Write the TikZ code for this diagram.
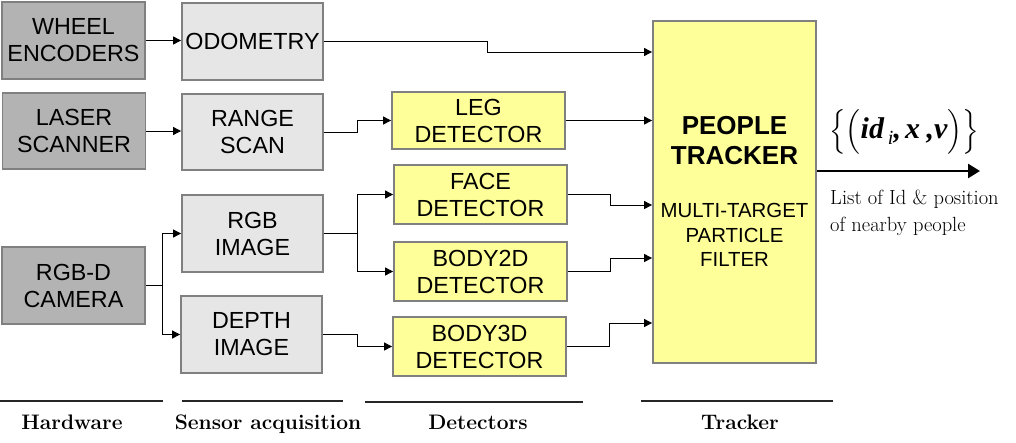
\documentclass[tikz,border=0pt]{standalone}
\usepackage{fix-cm}
\usepackage{amsmath}
\usepackage{fontspec}
\newfontfamily\arial{Liberation Sans}
\newfontfamily\tnr{Liberation Serif}
\usetikzlibrary{arrows.meta}
\definecolor{hwfill}{HTML}{B3B3B3}
\definecolor{sfill}{HTML}{E6E6E6}
\definecolor{yfill}{HTML}{FFFF99}
\definecolor{bord}{HTML}{808080}
\newcommand{\bivar}[1]{\text{\fontsize{30}{34}\selectfont\tnr\bfseries\itshape #1}}
\newcommand{\subvar}[1]{\raisebox{-6pt}{\fontsize{20}{22}\selectfont\tnr\itshape #1}}
\tikzset{
  box/.style={draw=bord, line width=1.8pt, inner sep=0pt, align=center,
    font=\arial\fontsize{23.3}{27}\selectfont},
  hw/.style={box, fill=hwfill, minimum width=143pt, minimum height=77pt},
  sens/.style={box, fill=sfill, minimum width=141pt, minimum height=77pt},
  det/.style={box, fill=yfill, minimum width=173pt, minimum height=59pt},
  arr/.style={-{Triangle[length=8pt,width=8pt]}, line width=0.9pt},
  bigarr/.style={-{Triangle[length=12pt,width=14pt]}, line width=2.6pt},
  sepline/.style={line width=1.3pt, black!85},
  lab/.style={anchor=base, inner sep=0pt, font=\fontsize{21}{25}\selectfont\bfseries}
}
\begin{document}
\begin{tikzpicture}[x=1pt,y=-1pt]
\useasboundingbox (0,0) rectangle (1016,442);
% hardware
\node[hw] (we) at (73.5,40.5) {WHEEL\\ENCODERS};
\node[hw, minimum height=76pt] (laser) at (74,131) {LASER\\SCANNER};
\node[hw] (rgbd) at (73.5,285.5) {RGB-D\\CAMERA};
% sensor acquisition
\node[sens] (odo) at (252.5,41.5) {ODOMETRY};
\node[sens, minimum height=76pt] (range) at (252.5,132) {RANGE\\SCAN};
\node[sens] (rgb) at (252.5,233.5) {RGB\\IMAGE};
\node[sens] (depth) at (251.5,334.5) {DEPTH\\IMAGE};
% detectors
\node[det, minimum height=57pt] (leg) at (478.5,120.5) {LEG\\DETECTOR};
\node[det] (face) at (480.5,194.5) {FACE\\DETECTOR};
\node[det] (body2d) at (480.5,271.5) {BODY2D\\DETECTOR};
\node[det] (body3d) at (479.5,346.5) {BODY3D\\DETECTOR};
% tracker
\node[box, fill=yfill, minimum width=163pt, minimum height=342pt] (tracker) at (734.5,192) {};
\node[inner sep=0pt, align=center, font=\arial\bfseries\fontsize{26}{30}\selectfont] (tt) at (734.5,141) {PEOPLE\\TRACKER};
\node[inner sep=0pt, align=center, font=\arial\fontsize{20.4}{24.5}\selectfont] (ts) at (734.5,235) {MULTI-TARGET\\PARTICLE\\FILTER};
% junction coordinates
\coordinate (j0) at (162,0);
\coordinate (j1) at (357,0);
\coordinate (b1) at (487,52);
\coordinate (f1) at (610,205);
\coordinate (f2) at (610,258);
\coordinate (f3) at (609,323);
\coordinate (out) at (980,171);
% connectors
\draw[arr] (we.east) -- (we.east -| odo.west);
\draw[arr] (laser.east) -- (laser.east -| range.west);
\draw[arr] (rgbd.east) -- (rgbd.east -| j0) |- (rgb.west);
\draw[arr] (rgbd.east -| j0) |- (depth.west);
\draw[arr] (odo.east) -| (b1) -- (b1 -| tracker.west);
\draw[arr] (range.east) -- (range.east -| j1) |- (leg.west);
\draw[arr] (rgb.east) -- (rgb.east -| j1) |- (face.west);
\draw[arr] (rgb.east -| j1) |- (body2d.west);
\draw[arr] (depth.east) -- (depth.east -| j1) |- (body3d.west);
\draw[arr] (leg.east) -- (leg.east -| tracker.west);
\draw[arr] (face.east) -| (f1) -- (f1 -| tracker.west);
\draw[arr] (body2d.east) -| (f2) -- (f2 -| tracker.west);
\draw[arr] (body3d.east) -| (f3) -- (f3 -| tracker.west);
\draw[bigarr] (out -| tracker.east) -- (out);
% output labels
\node[anchor=west, inner sep=0pt, font=\fontsize{24}{28}\selectfont] (formula) at (829,132)
  {$\Bigl\{\Bigl(\bivar{id}\,\subvar{i}\bivar{,}\,\bivar{x}\;\bivar{,}\bivar{v}\Bigr)\Bigr\}$};
\node[anchor=north west, inner sep=0pt, align=left, font=\fontsize{20.5}{27}\selectfont] (list) at (830,189.5)
  {List of Id \& position\\of nearby people};
% stage separators and labels
\draw[sepline] (0,401) -- (163,401);
\draw[sepline] (182,401) -- (343,401);
\draw[sepline] (365,402) -- (583,402);
\draw[sepline] (641,401) -- (833,401);
\node[lab] (l1) at (72,429) {Hardware};
\node[lab] (l2) at (268,429) {Sensor acquisition};
\node[lab] (l3) at (478,429) {Detectors};
\node[lab] (l4) at (740,429) {Tracker};
\end{tikzpicture}
\end{document}
